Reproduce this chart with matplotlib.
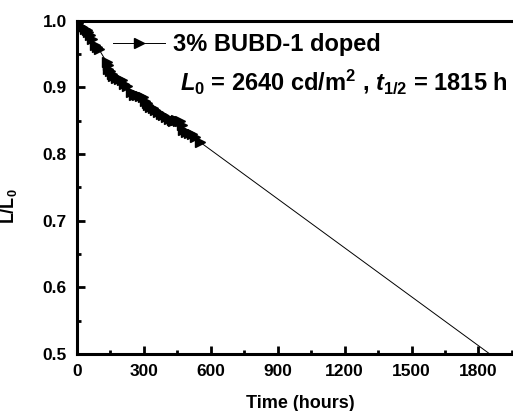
import matplotlib
matplotlib.use("Agg")
import matplotlib.pyplot as plt
from matplotlib.ticker import MultipleLocator

plt.rcParams['font.family'] = ['Liberation Sans', 'DejaVu Sans']
plt.rcParams['font.weight'] = 'bold'
plt.rcParams['mathtext.fontset'] = 'custom'
plt.rcParams['mathtext.rm'] = 'Liberation Sans:bold'
plt.rcParams['mathtext.it'] = 'Liberation Sans:italic:bold'
plt.rcParams['mathtext.bf'] = 'Liberation Sans:bold'

# measured decay (hours, L/L0)
time_h = [0, 8, 15, 25, 37, 45, 52, 60, 68, 80, 89, 98, 134, 138, 142, 150, 158,
          164, 175, 188, 201, 212, 225, 245, 258, 270, 285, 298, 305, 313, 320,
          328, 340, 352, 365, 378, 387, 400, 412, 425, 432, 445, 455, 463, 470,
          477, 490, 503, 515, 530, 552]
lum = [1.000, 0.996, 0.992, 0.990, 0.988, 0.986, 0.983, 0.978, 0.972, 0.963,
       0.960, 0.958, 0.938, 0.933, 0.928, 0.924, 0.920, 0.917, 0.914, 0.912,
       0.911, 0.905, 0.902, 0.893, 0.889, 0.888, 0.887, 0.885, 0.880, 0.876,
       0.873, 0.871, 0.869, 0.866, 0.863, 0.860, 0.858, 0.856, 0.853, 0.851,
       0.850, 0.851, 0.850, 0.849, 0.844, 0.836, 0.833, 0.832, 0.830, 0.826,
       0.818]

# extrapolated line to half life
fit_t = [552, 1851]
fit_v = [0.818, 0.5]

xticks = [0, 300, 600, 900, 1200, 1500, 1800]
yticks = [0.5, 0.6, 0.7, 0.8, 0.9, 1.0]

fig = plt.figure(figsize=(5.13, 4.11), dpi=100)
x0 = 76.7 / 513
xmax = 1960
ax = fig.add_axes([x0, 57 / 411, xmax * 0.2232 / 513, 333.3 / 411])

ax.plot(time_h, lum, color='black', lw=0.7, marker='>', ms=6.5,
        label='3% BUBD-1 doped')
ax.plot(fit_t, fit_v, color='black', lw=0.7)

ax.set_xlim(0, xmax)
ax.set_ylim(0.5, 1.0)
ax.set_xticks(xticks)
ax.set_yticks(yticks)
ax.xaxis.set_minor_locator(MultipleLocator(150))
ax.yaxis.set_minor_locator(MultipleLocator(0.05))
ax.tick_params(which='both', direction='in', top=False, right=False,
               labelsize=12.5)
ax.tick_params(which='major', length=6, width=2, pad=7)
ax.tick_params(which='minor', length=3, width=2)
for lab in ax.get_xticklabels() + ax.get_yticklabels():
    lab.set_fontweight('bold')
for s in ['left', 'bottom', 'top']:
    ax.spines[s].set_linewidth(2.2)
ax.spines['right'].set_visible(False)

ax.set_xlabel('Time (hours)', fontsize=13, fontweight='bold')
ax.set_ylabel('L/L$_0$', fontsize=13, fontweight='bold')
ax.xaxis.set_label_coords(0.512, -0.123)
ax.yaxis.set_label_coords(-0.132, 0.444)

ax.legend(loc='center left', bbox_to_anchor=(113 / 513, 1 - 45 / 411),
          bbox_transform=fig.transFigure, frameon=False, borderpad=0,
          borderaxespad=0, handlelength=2.2, handletextpad=0.35,
          numpoints=1, prop={'size': 17, 'weight': 'bold'})

fig.text(180 / 513, 1 - 82 / 411,
         r'$L_{\mathit{0}}$ = 2640 cd/m$^2$ , $t_{\mathit{1/2}}$ = 1815 h',
         fontsize=17, fontweight='bold', va='center', ha='left')

fig.savefig('out.png', dpi=100)
